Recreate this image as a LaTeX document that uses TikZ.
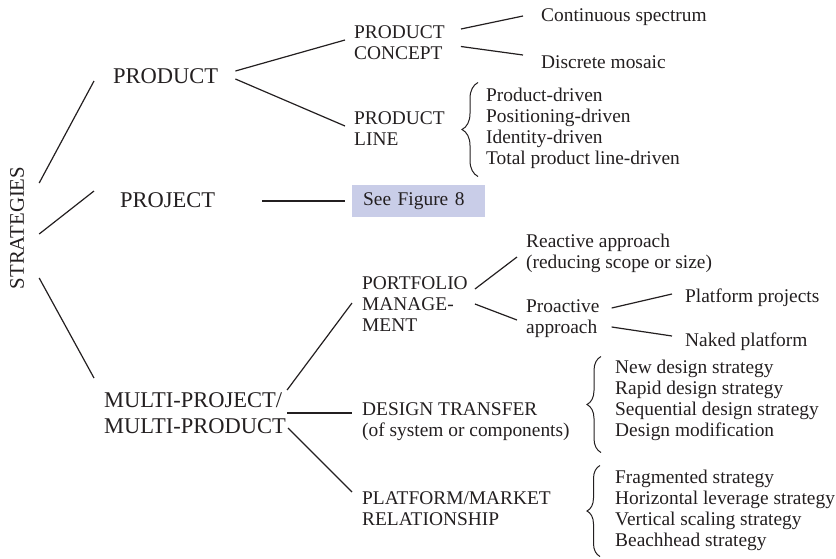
\documentclass[tikz,border=0pt]{standalone}
\usepackage{fontspec}
\setmainfont{Liberation Serif}
\usetikzlibrary{positioning, decorations.pathreplacing}

\definecolor{ink}{RGB}{35,31,32}
\definecolor{figfill}{RGB}{201,205,232}

\begin{document}
\begin{tikzpicture}[
    x=1pt, y=-1pt,
    every node/.style={text=ink, inner sep=0pt, anchor=west, align=left},
    topnode/.style={font=\fontsize{22.5}{26}\selectfont},
    subnode/.style={font=\fontsize{19.4}{21}\selectfont},
    figbox/.style={subnode, fill=figfill, text width=111pt, minimum height=32pt, inner xsep=11pt},
    branch/.style={draw=ink, line width=1.2pt},
    curly/.style={draw=ink, line width=1pt, decorate, decoration={brace, amplitude=#1}}
]
\useasboundingbox (0,0) rectangle (836,558);

% Root
\node[font=\fontsize{20.8}{24}\selectfont, rotate=90, anchor=center] (strat) at (17,228) {STRATEGIES};

% First level
\node[topnode] (prod) at (113,76) {PRODUCT};
\node[topnode] (proj) at (120,200) {PROJECT};
\node[topnode] (multi) at (104,413) {MULTI-PROJECT/\\MULTI-PRODUCT};

% Second level
\node[subnode] (concept) at (354,43) {PRODUCT\\CONCEPT};
\node[subnode] (pline) at (354,129) {PRODUCT\\LINE};
\node[figbox] (fig) at (352,201) {See Figure 8};
\node[subnode] (portf) at (362,304) {PORTFOLIO\\MANAGE-\\MENT};
\node[subnode] (dtrans) at (362,421.5) {DESIGN TRANSFER\\(of system or components)};
\node[subnode] (platm) at (362,508.5) {PLATFORM/MARKET\\RELATIONSHIP};

% Third level
\node[subnode] (cont) at (541,17) {Continuous spectrum};
\node[subnode] (disc) at (541,62) {Discrete mosaic};
\node[subnode] (plist) at (486,128.5) {Product-driven\\Positioning-driven\\Identity-driven\\Total product line-driven};
\node[subnode] (react) at (526,253.5) {Reactive approach\\(reducing scope or size)};
\node[subnode] (proact) at (526,318.5) {Proactive\\approach};
\node[subnode] (dtlist) at (615,400.5) {New design strategy\\Rapid design strategy\\Sequential design strategy\\Design modification};
\node[subnode] (pmlist) at (615,510.5) {Fragmented strategy\\Horizontal leverage strategy\\Vertical scaling strategy\\Beachhead strategy};

% Fourth level
\node[subnode] (pproj) at (685,298) {Platform projects};
\node[subnode] (naked) at (685,342) {Naked platform};

% Edges
\draw[branch] ([xshift=15,yshift=45]strat.south) -- ([xshift=-19,yshift=-5]prod.west);
\draw[branch] ([xshift=15,yshift=-6]strat.south) -- ([xshift=-26,yshift=9]proj.west);
\draw[branch] ([xshift=15,yshift=-50]strat.south) -- ([xshift=-10,yshift=35]multi.west);
\draw[branch] ([xshift=17,yshift=5]prod.east) -- ([xshift=-9,yshift=3]concept.west);
\draw[branch] ([xshift=17,yshift=-3]prod.east) -- ([xshift=-9,yshift=3]pline.west);
\draw[branch] ([xshift=16,yshift=14]concept.east) -- ([xshift=-18,yshift=1]cont.west);
\draw[branch] ([xshift=16,yshift=-3.5]concept.east) -- ([xshift=-18,yshift=7]disc.west);
\draw[branch] ([xshift=47,yshift=-1]proj.east) -- ([xshift=-7]fig.west);
\draw[branch] ([xshift=1,yshift=23]multi.east) -- ([xshift=-10,yshift=1]portf.west);
\draw[branch] ([xshift=1]multi.east) -- ([xshift=-10,yshift=8.5]dtrans.west);
\draw[branch] ([xshift=2,yshift=-15]multi.east) -- ([xshift=-10,yshift=16.5]platm.west);
\draw[branch] ([xshift=7,yshift=15]portf.east) -- ([xshift=-9,yshift=-3.5]react.west);
\draw[branch] ([xshift=7]portf.east) -- ([xshift=-9,yshift=-1.5]proact.west);
\draw[branch] ([xshift=12,yshift=10.5]proact.east) -- ([xshift=-13,yshift=4]pproj.west);
\draw[branch] ([xshift=12,yshift=-8.5]proact.east) -- ([xshift=-13,yshift=6]naked.west);

% Braces
\draw[curly=16] ([xshift=-8,yshift=-48]plist.west) -- ([xshift=-8,yshift=46]plist.west);
\draw[curly=14] ([xshift=-14,yshift=-52]dtlist.west) -- ([xshift=-14,yshift=44]dtlist.west);
\draw[curly=13] ([xshift=-15,yshift=-46]pmlist.west) -- ([xshift=-15,yshift=45]pmlist.west);

\end{tikzpicture}
\end{document}
